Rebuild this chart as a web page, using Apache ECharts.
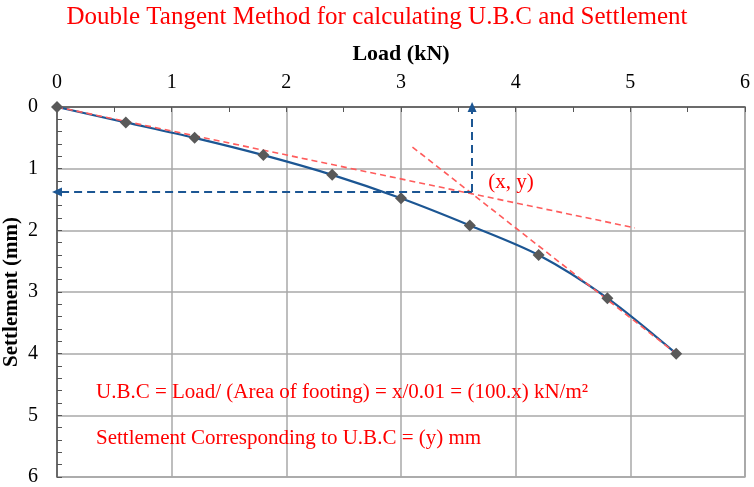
<!DOCTYPE html>
<html>
<head>
<meta charset="utf-8">
<script src="https://cdn.jsdelivr.net/npm/echarts/dist/echarts.min.js"></script>
<style>
  html, body { margin: 0; padding: 0; background: #fff; }
  #chart { width: 754px; height: 487px; }
</style>
</head>
<body>
<div id="chart"></div>
<script>
// load-settlement readings
const load = [0, 0.6, 1.2, 1.8, 2.4, 3.0, 3.6, 4.2, 4.8, 5.4];
const settlement = [0, 0.25, 0.5, 0.78, 1.1, 1.48, 1.92, 2.4, 3.1, 4.0];

// the two tangents, [load, settlement] end points
const tangentInitial = [[0, 0], [5.04, 1.96]];
const tangentFinal = [[3.1, 0.65], [5.4, 4.0]];

// intersection of the tangents (x, y)
const crossPoint = [3.62, 1.38];

// text notes, [load, settlement, text]
const notes = [
    [3.76, 1.23, '(x, y)'],
    [0.34, 4.63, 'U.B.C = Load/ (Area of footing) = x/0.01 = (100.x) kN/m²'],
    [0.34, 5.38, 'Settlement Corresponding to U.B.C = (y) mm']
];

const serif = '"Liberation Serif", "DejaVu Serif", serif';
const blue = '#1c5693';
const redDash = '#ff5c5c';
const red = '#ff0000';

let chart = echarts.init(document.getElementById('chart'));

let option = {
    animation: false,
    title: {
        text: 'Double Tangent Method for calculating U.B.C and Settlement',
        left: 'center',
        top: 0,
        textStyle: {
            color: red,
            fontFamily: serif,
            fontWeight: 'normal',
            fontSize: 25
        }
    },
    grid: {
        left: 57, right: 9, top: 107, bottom: 10,
        outerBoundsMode: 'none',
        containLabel: false,
        show: true, borderColor: '#777', borderWidth: 1.2
    },
    xAxis: {
        type: 'value',
        position: 'top',
        min: 0, max: 6, interval: 1,
        name: 'Load (kN)',
        nameLocation: 'middle',
        nameGap: 42,
        nameMoveOverlap: false,
        nameTextStyle: { color: '#000', fontFamily: serif, fontWeight: 'bold', fontSize: 22 },
        axisLine: { show: true, lineStyle: { color: '#555', width: 1.5 } },
        axisTick: { show: true, inside: true, length: 5, lineStyle: { color: '#555' } },
        minorTick: { show: true, splitNumber: 2, length: 5, lineStyle: { color: '#555' } },
        axisLabel: { color: '#000', fontFamily: serif, fontSize: 20, margin: 14 },
        splitLine: { show: true, lineStyle: { color: '#a8a8a8', width: 1.5 } }
    },
    yAxis: {
        type: 'value',
        inverse: true,
        min: 0, max: 6, interval: 1,
        name: 'Settlement (mm)',
        nameLocation: 'middle',
        nameRotate: 90,
        nameGap: 35,
        nameMoveOverlap: false,
        nameTextStyle: { color: '#000', fontFamily: serif, fontWeight: 'bold', fontSize: 21 },
        axisLine: { show: true, lineStyle: { color: '#555', width: 1.5 } },
        axisTick: { show: true, inside: true, length: 5, lineStyle: { color: '#555' } },
        minorTick: { show: true, splitNumber: 5, length: 5, lineStyle: { color: '#555' } },
        axisLabel: { color: '#000', fontFamily: serif, fontSize: 20, margin: 19 },
        splitLine: { show: true, lineStyle: { color: '#a8a8a8', width: 1.5 } }
    },
    series: [
        {
            name: 'curve',
            type: 'line',
            smooth: 0.3,
            symbol: 'none',
            data: load.map((v, i) => [v, settlement[i]]),
            lineStyle: { color: blue, width: 2.2 },
            z: 2
        },
        {
            name: 'initial tangent',
            type: 'line',
            symbol: 'none',
            data: tangentInitial,
            lineStyle: { color: redDash, width: 1.6, type: [6, 4] },
            z: 3
        },
        {
            name: 'final tangent',
            type: 'line',
            symbol: 'none',
            data: tangentFinal,
            lineStyle: { color: redDash, width: 1.6, type: [6, 4] },
            z: 3
        },
        {
            name: 'readings',
            type: 'scatter',
            symbol: 'diamond',
            symbolSize: 12,
            data: load.map((v, i) => [v, settlement[i]]),
            itemStyle: { color: '#595959', opacity: 1 },
            z: 4,
            markLine: {
                silent: true,
                symbol: ['none', 'triangle'],
                symbolSize: [9, 10],
                label: { show: false },
                lineStyle: { color: blue, width: 2, type: [8, 5] },
                data: [
                    [{ coord: crossPoint }, { coord: [0, crossPoint[1]] }],
                    [{ coord: crossPoint }, { coord: [crossPoint[0], 0] }]
                ]
            }
        },
        {
            name: 'notes',
            type: 'scatter',
            symbolSize: 0,
            silent: true,
            itemStyle: { opacity: 1 },
            data: notes.map(n => ({ value: [n[0], n[1]], name: n[2] })),
            label: {
                show: true,
                position: 'right',
                distance: 0,
                formatter: p => p.name,
                color: red,
                opacity: 1,
                fontFamily: serif,
                fontSize: 21
            },
            z: 5
        }
    ]
};

chart.setOption(option);
</script>
</body>
</html>
